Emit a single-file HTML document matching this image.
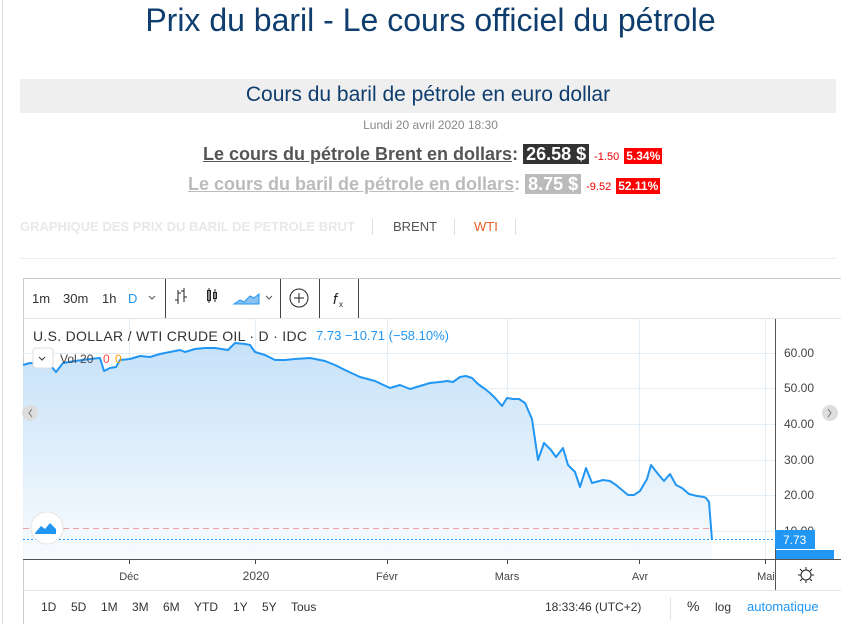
<!DOCTYPE html>
<html><head><meta charset="utf-8"><style>
body{margin:0;width:841px;height:624px;overflow:hidden;background:#fff;font-family:"Liberation Sans",sans-serif;position:relative}
.a{position:absolute;white-space:nowrap}
</style></head><body>
<div class="a" style="left:2px;top:0;width:1px;height:624px;background:#ddd"></div>
<div class="a" style="left:0;width:861px;top:2px;text-align:center;font-size:32px;color:#0e3d6e">Prix du baril - Le cours officiel du pétrole</div>
<div class="a" style="left:20px;top:79px;width:816px;height:34px;background:#efefef;text-align:center;line-height:32px;font-size:21px;color:#0e3d6e">Cours du baril de pétrole en euro dollar</div>
<div class="a" style="left:0;width:861px;top:118px;text-align:center;font-size:12px;color:#888">Lundi 20 avril 2020 18:30</div>
<div class="a" style="left:203px;top:144px;font-size:18px;font-weight:bold;color:#555"><u>Le cours du pétrole Brent en dollars</u>: <span style="background:#333;color:#fff;padding:0 3px">26.58 $</span> <span style="font-size:11px;font-weight:normal;color:#e00">-1.50</span> <span style="font-size:12px;background:#f00;color:#fff;padding:1px 2px">5.34%</span></div>
<div class="a" style="left:188px;top:174px;font-size:18px;font-weight:bold;color:#bbb"><u>Le cours du baril de pétrole en dollars</u>: <span style="background:#bbb;color:#fff;padding:0 3px">8.75 $</span> <span style="font-size:11px;font-weight:normal;color:#e00">-9.52</span> <span style="font-size:12px;background:#f00;color:#fff;padding:1px 2px">52.11%</span></div>
<div class="a" style="left:20px;top:219px;font-size:13px;font-weight:bold;color:#e8e8e8">GRAPHIQUE DES PRIX DU BARIL DE PETROLE BRUT</div>
<div class="a" style="left:372px;top:219px;width:1px;height:16px;background:#ddd"></div>
<div class="a" style="left:393px;top:219px;font-size:13px;color:#555">BRENT</div>
<div class="a" style="left:454px;top:219px;width:1px;height:16px;background:#ddd"></div>
<div class="a" style="left:474px;top:219px;font-size:13px;color:#e85d20">WTI</div>
<div class="a" style="left:515px;top:219px;width:1px;height:16px;background:#ddd"></div>
<div class="a" style="left:20px;top:258px;width:816px;height:1px;background:#eee"></div>
<svg class="a" style="left:0;top:0" width="841" height="624" font-family="Liberation Sans, sans-serif">
<defs><linearGradient id="g" x1="0" y1="0" x2="0" y2="1"><stop offset="0" stop-color="#c3e0f8"/><stop offset="1" stop-color="#f8fbfe"/></linearGradient></defs>
<rect x="23.5" y="278.5" width="820" height="350" fill="none" stroke="#ccc"/>
<line x1="23" y1="318.5" x2="841" y2="318.5" stroke="#e0e3eb"/>
<g stroke="#444" stroke-width="1"><line x1="165.5" y1="279" x2="165.5" y2="318"/><line x1="280.5" y1="279" x2="280.5" y2="318"/><line x1="319.5" y1="279" x2="319.5" y2="318"/><line x1="358.5" y1="279" x2="358.5" y2="318"/></g>
<g font-size="13" fill="#333"><text x="32" y="303">1m</text><text x="63" y="303">30m</text><text x="102" y="303">1h</text><text x="128" y="303" fill="#2196f3">D</text></g>
<path d="M149 296l3 3 3-3" fill="none" stroke="#555"/><path d="M266 296l3 3 3-3" fill="none" stroke="#555"/>
<g stroke="#222" fill="none"><path d="M178 290v14M178 300h-3M178 293h3M184 288v14M184 291h-3M184 297h3"/><rect x="207.5" y="290.5" width="3" height="10"/><path d="M209 288v15M215 289v13"/><rect x="213.5" y="292.5" width="3" height="6"/></g>
<path d="M234 304l6-4 4 2 6-6 4 2 5-4v10z" fill="#89c2f2" stroke="#2196f3"/>
<circle cx="299" cy="298" r="9" fill="none" stroke="#222"/><path d="M294 298h10M299 293v10" stroke="#222"/>
<text x="333" y="304" font-size="15" fill="#222" font-style="italic">f</text><text x="339" y="307" font-size="8" fill="#222">x</text>
<g stroke="#e3edf5"><line x1="23" y1="353.5" x2="775" y2="353.5"/><line x1="23" y1="388.5" x2="775" y2="388.5"/><line x1="23" y1="424.5" x2="775" y2="424.5"/><line x1="23" y1="460.5" x2="775" y2="460.5"/><line x1="23" y1="495.5" x2="775" y2="495.5"/><line x1="23" y1="531.5" x2="775" y2="531.5"/>
<line x1="129.5" y1="319" x2="129.5" y2="559"/><line x1="255.5" y1="319" x2="255.5" y2="559"/><line x1="387.5" y1="319" x2="387.5" y2="559"/><line x1="507.5" y1="319" x2="507.5" y2="559"/><line x1="639.5" y1="319" x2="639.5" y2="559"/><line x1="765.5" y1="319" x2="765.5" y2="559"/></g>
<polygon fill="url(#g)" fill-opacity="0.95" points="23,559 23,365 30,363 40,364 46,360 56,372 63,363 75,361 90,359 100,358 104,371 110,368 116,367 120,360 130,359 140,356 150,357 160,354 170,352 180,350 185,352 195,349 205,348 215,348 228,350 235,343 245,344 250,345 255,352 265,355 275,360 285,360 295,359 310,358 325,361 335,365 345,370 360,377 375,381 390,388 400,385 410,389 420,386 430,383 440,382 447,381 453,382 460,377 466,376 472,378 478,384 485,389 490,393 496,399 502,406 507,398 513,399 519,399 525,403 532,419 538,460 544,443 551,450 556,457 563,448 568,465 575,472 580,487 586,468 592,483 603,480 610,481 616,485 622,490 628,495 634,495 640,491 647,479 651,465 658,474 664,481 670,474 676,485 682,488 689,494 697,496 704,497 706,498 709,502 712,540 712,559"/>
<line x1="23" y1="528.5" x2="712" y2="528.5" stroke="#f0a0a0" stroke-dasharray="6 4"/>
<line x1="23" y1="539.5" x2="775" y2="539.5" stroke="#2196f3" stroke-dasharray="2 2"/>
<polyline fill="none" stroke="#2196f3" stroke-width="2" stroke-linejoin="round" points="23,365 30,363 40,364 46,360 56,372 63,363 75,361 90,359 100,358 104,371 110,368 116,367 120,360 130,359 140,356 150,357 160,354 170,352 180,350 185,352 195,349 205,348 215,348 228,350 235,343 245,344 250,345 255,352 265,355 275,360 285,360 295,359 310,358 325,361 335,365 345,370 360,377 375,381 390,388 400,385 410,389 420,386 430,383 440,382 447,381 453,382 460,377 466,376 472,378 478,384 485,389 490,393 496,399 502,406 507,398 513,399 519,399 525,403 532,419 538,460 544,443 551,450 556,457 563,448 568,465 575,472 580,487 586,468 592,483 603,480 610,481 616,485 622,490 628,495 634,495 640,491 647,479 651,465 658,474 664,481 670,474 676,485 682,488 689,494 697,496 704,497 706,498 709,502 712,540"/>
<text x="33" y="341" font-size="14" fill="#333" letter-spacing="0.3">U.S. DOLLAR / WTI CRUDE OIL · D · IDC</text>
<text x="316" y="340" font-size="13" fill="#2196f3">7.73  −10.71  (−58.10%)</text>
<rect x="33" y="348" width="20" height="20" rx="3" fill="#fff" stroke="#ddd"/><path d="M39 357l3 3 3-3" fill="none" stroke="#333"/>
<text x="60" y="363" font-size="12" fill="#444">Vol 20</text><text x="103" y="363" font-size="12" fill="#f44">0</text><text x="115" y="363" font-size="12" fill="#f90">0</text>
<circle cx="30" cy="413" r="8" fill="#ddd"/><path d="M32 409l-3 4 3 4" fill="none" stroke="#777"/>
<circle cx="830" cy="413" r="8" fill="#ddd"/><path d="M828 409l3 4-3 4" fill="none" stroke="#777"/>
<circle cx="47" cy="528" r="16" fill="#fff" stroke="#e5e5e5"/><path d="M35 533l6-7 4 3 5-6 6 6v5h-21z" fill="#2196f3"/>
<line x1="775.5" y1="319" x2="775.5" y2="590" stroke="#555"/>
<line x1="23" y1="559.5" x2="841" y2="559.5" stroke="#555"/>
<g font-size="12" fill="#444"><text x="784" y="357">60.00</text><text x="784" y="392">50.00</text><text x="784" y="428">40.00</text><text x="784" y="464">30.00</text><text x="784" y="499">20.00</text><text x="784" y="535">10.00</text></g>
<rect x="775" y="530" width="40" height="19" fill="#2196f3"/><text x="783" y="544" font-size="12" fill="#fff">7.73</text>
<rect x="776" y="550" width="58" height="9" fill="#2196f3"/>
<g font-size="11" fill="#444" text-anchor="middle"><text x="129" y="580">Déc</text><text x="256" y="580" font-size="12">2020</text><text x="387" y="580">Févr</text><text x="507" y="580">Mars</text><text x="640" y="580">Avr</text><text x="766" y="580">Mai</text></g>
<g stroke="#444"><line x1="129.5" y1="560" x2="129.5" y2="564"/><line x1="255.5" y1="560" x2="255.5" y2="564"/><line x1="387.5" y1="560" x2="387.5" y2="564"/><line x1="507.5" y1="560" x2="507.5" y2="564"/><line x1="639.5" y1="560" x2="639.5" y2="564"/><line x1="765.5" y1="560" x2="765.5" y2="564"/></g>
<circle cx="806" cy="575" r="5" fill="none" stroke="#222"/><path d="M806 567v3M806 580v3M798 575h3M811 575h3M800 569l2 2M810 579l2 2M800 581l2-2M810 571l2-2" stroke="#222"/>
<line x1="23" y1="590.5" x2="841" y2="590.5" stroke="#e0e3eb"/>
<g font-size="12" fill="#333"><text x="41" y="611">1D</text><text x="71" y="611">5D</text><text x="101" y="611">1M</text><text x="132" y="611">3M</text><text x="163" y="611">6M</text><text x="194" y="611">YTD</text><text x="233" y="611">1Y</text><text x="262" y="611">5Y</text><text x="291" y="611">Tous</text>
<text x="545" y="611">18:33:46 (UTC+2)</text><text x="687" y="611" font-size="14">%</text><text x="715" y="611">log</text><text x="747" y="611" fill="#2196f3" font-size="13">automatique</text></g>
<line x1="670.5" y1="597" x2="670.5" y2="620" stroke="#e0e3eb"/>
</svg>
</body></html>
